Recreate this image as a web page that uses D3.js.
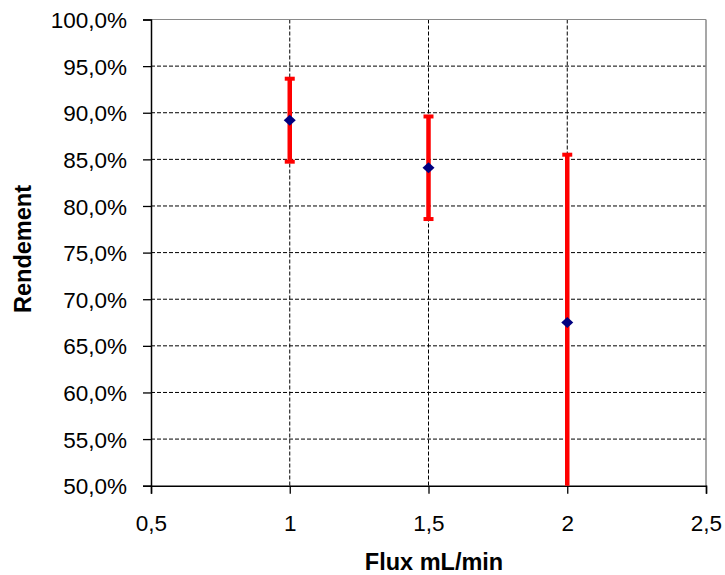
<!DOCTYPE html>
<html>
<head>
<meta charset="utf-8">
<script src="https://cdn.jsdelivr.net/npm/d3@7"></script>
<style>
  html, body { margin: 0; padding: 0; background: #fff; }
  svg { display: block; }
  text { font-family: "Liberation Sans", Arial, sans-serif; }
</style>
</head>
<body>
<svg id="chart" width="725" height="575"></svg>
<script>
// ---- data ----
const fluxValues = [1, 1.5, 2];
const rendementValues = [0.892, 0.841, 0.675];
const errorValues = [0.0445, 0.055, 0.18];
const xTickValues = [0.5, 1, 1.5, 2, 2.5];
const yTickValues = [0.5, 0.55, 0.6, 0.65, 0.7, 0.75, 0.8, 0.85, 0.9, 0.95, 1.0];
const xTitle = "Flux mL/min";
const yTitle = "Rendement";

const svg = d3.select("#chart");
const mLeft = 151, mRight = 706, mTop = 19.5, mBottom = 485.7;

const x = d3.scaleLinear().domain([0.5, 2.5]).range([mLeft, mRight]);
const y = d3.scaleLinear().domain([0.5, 1.0]).range([mBottom, mTop]);

const fmtX = v => String(v).replace(".", ",");
const fmtY = v => (v * 100).toFixed(1).replace(".", ",") + "%";

// gridlines
const grid = svg.append("g");
grid.selectAll("line.h").data(yTickValues.filter(v => v > 0.5 && v < 1.0)).enter()
  .append("line")
  .attr("x1", mLeft).attr("x2", mRight)
  .attr("y1", d => y(d)).attr("y2", d => y(d))
  .attr("stroke", "#000").attr("stroke-width", 1).attr("stroke-dasharray", "4,2");
grid.selectAll("line.v").data(xTickValues.filter(v => v > 0.5 && v < 2.5)).enter()
  .append("line")
  .attr("x1", d => x(d)).attr("x2", d => x(d))
  .attr("y1", mTop).attr("y2", mBottom)
  .attr("stroke", "#000").attr("stroke-width", 1).attr("stroke-dasharray", "4,2");

// top and right borders (grey)
svg.append("line").attr("x1", mLeft).attr("x2", mRight).attr("y1", y(1.0)).attr("y2", y(1.0))
  .attr("stroke", "#8a8a8a").attr("stroke-width", 1.2);
svg.append("line").attr("x1", mRight).attr("x2", mRight).attr("y1", mTop).attr("y2", mBottom)
  .attr("stroke", "#8a8a8a").attr("stroke-width", 1.5);

// axes
const yAxis = d3.axisLeft(y).tickValues(yTickValues).tickFormat(fmtY).tickSizeOuter(0).tickSize(8).tickPadding(16);
const gy = svg.append("g").attr("transform", `translate(${mLeft},0)`).call(yAxis);
gy.select(".domain").attr("stroke", "#000").attr("stroke-width", 1.5);
gy.selectAll(".tick line").attr("stroke", "#000").attr("stroke-width", 1.3);
gy.selectAll(".tick text").attr("font-size", 22.5).attr("fill", "#000")
  .attr("font-family", "'Liberation Sans', Arial, sans-serif").attr("dy", "0.36em");

const xAxis = d3.axisBottom(x).tickValues(xTickValues).tickFormat(fmtX).tickSizeOuter(0).tickSize(8).tickPadding(21);
const gx = svg.append("g").attr("transform", `translate(0,${mBottom})`).call(xAxis);
gx.select(".domain").attr("stroke", "#000").attr("stroke-width", 1.5);
gx.selectAll(".tick line").attr("stroke", "#000").attr("stroke-width", 1.3);
gx.selectAll(".tick text").attr("font-size", 22.5).attr("fill", "#000")
  .attr("font-family", "'Liberation Sans', Arial, sans-serif");

// error bars
const pts = fluxValues.map((f, i) => ({ f, r: rendementValues[i], e: errorValues[i] }));
const eb = svg.append("g");
pts.forEach(p => {
  const hi = Math.min(p.r + p.e, 1.0), lo = Math.max(p.r - p.e, 0.5);
  eb.append("line").attr("x1", x(p.f)).attr("x2", x(p.f))
    .attr("y1", y(hi)).attr("y2", y(lo))
    .attr("stroke", "#ff0000").attr("stroke-width", 4.5);
  if (p.r + p.e <= 1.0) {
    eb.append("line").attr("x1", x(p.f) - 5).attr("x2", x(p.f) + 5)
      .attr("y1", y(hi)).attr("y2", y(hi))
      .attr("stroke", "#ff0000").attr("stroke-width", 4);
  }
  if (p.r - p.e >= 0.5) {
    eb.append("line").attr("x1", x(p.f) - 5).attr("x2", x(p.f) + 5)
      .attr("y1", y(lo)).attr("y2", y(lo))
      .attr("stroke", "#ff0000").attr("stroke-width", 4);
  }
});

// markers
svg.append("g").selectAll("path").data(pts).enter().append("path")
  .attr("d", d => {
    const cx = x(d.f), cy = y(d.r);
    return `M${cx},${cy - 5.5}L${cx + 6},${cy}L${cx},${cy + 5.5}L${cx - 6},${cy}Z`;
  })
  .attr("fill", "#000080");

// titles
svg.append("text").attr("x", 434).attr("y", 570).attr("text-anchor", "middle")
  .attr("font-size", 23.5).attr("font-weight", "bold").attr("fill", "#000").text(xTitle);
svg.append("text").attr("transform", "translate(31,249) rotate(-90)").attr("text-anchor", "middle")
  .attr("font-size", 23.5).attr("font-weight", "bold").attr("fill", "#000").text(yTitle);
</script>
</body>
</html>
